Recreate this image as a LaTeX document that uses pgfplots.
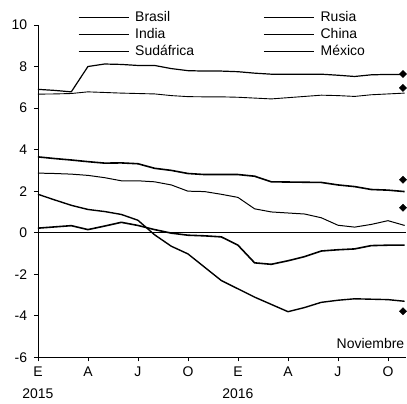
\documentclass[border=0pt]{standalone}
\usepackage{fontspec}
\setmainfont{Liberation Sans}
\usepackage{pgfplots}
\pgfplotsset{compat=1.18}

\begin{document}
\fontsize{14}{16}\selectfont
\begin{tikzpicture}
\begin{axis}[
  scale only axis,
  width=369pt, height=333pt,
  xmin=0, xmax=22.1, ymin=-6, ymax=10,
  axis x line*=bottom, axis y line*=left,
  axis line style={-},
  x axis line style={line width=1.1pt},
  y axis line style={line width=0.7pt},
  xtick={0,3,6,9,12,15,18,21},
  xticklabels={E\\2015, A, J, O, E\\2016, A, J, O},
  xticklabel style={align=center, font=\fontsize{14}{22}\selectfont, yshift=-1pt},
  ytick={-6,-4,...,10},
  yticklabel style={/pgf/number format/assume math mode=true, font=\fontsize{14}{16}\selectfont, xshift=-2pt},
  tick align=outside,
  major tick length=4pt,
  tick style={black, line width=0.7pt},
  clip=false,
  legend columns=2,
  legend style={draw=none, fill=none, inner sep=0pt,
    at={(rel axis cs:0.108,1.045)}, anchor=north west,
    nodes={text height=10pt, text depth=3pt, inner sep=1pt, anchor=west},
    row sep=2pt,
    /tikz/every odd column/.append style={column sep=5pt},
    /tikz/every even column/.append style={column sep=68pt},
    font=\fontsize{14}{16}\selectfont},
  legend image code/.code={\draw[#1] (0pt,0pt) -- (50pt,0pt);},
]
% Brasil
\addplot[black, line width=1.4pt] coordinates {
 (0,1.85) (1,1.58) (2,1.32) (3,1.12) (4,1.02) (5,0.88) (6,0.6) (7,-0.1)
 (8,-0.65) (9,-1.02) (10,-1.66) (11,-2.3) (12,-2.7) (13,-3.1) (14,-3.45)
 (15,-3.8) (16,-3.6) (17,-3.35) (18,-3.25) (19,-3.18) (20,-3.2) (21,-3.22) (22,-3.3)};
\addlegendentry{Brasil}
% Rusia
\addplot[black, line width=1.6pt] coordinates {
 (0,0.22) (1,0.28) (2,0.34) (3,0.15) (4,0.32) (5,0.5) (6,0.35) (7,0.15)
 (8,-0.02) (9,-0.12) (10,-0.15) (11,-0.2) (12,-0.6) (13,-1.45) (14,-1.52)
 (15,-1.35) (16,-1.15) (17,-0.88) (18,-0.82) (19,-0.78) (20,-0.62) (21,-0.6) (22,-0.6)};
\addlegendentry{Rusia}
% India
\addplot[black, line width=1.2pt] coordinates {
 (0,6.9) (1,6.85) (2,6.78) (3,8.0) (4,8.12) (5,8.1) (6,8.05) (7,8.05)
 (8,7.9) (9,7.8) (10,7.78) (11,7.78) (12,7.75) (13,7.68) (14,7.63)
 (15,7.63) (16,7.63) (17,7.63) (18,7.58) (19,7.52) (20,7.6) (21,7.62) (22,7.62)};
\addlegendentry{India}
% China
\addplot[black, line width=0.9pt] coordinates {
 (0,6.67) (1,6.68) (2,6.7) (3,6.78) (4,6.75) (5,6.72) (6,6.7) (7,6.68)
 (8,6.6) (9,6.55) (10,6.54) (11,6.54) (12,6.52) (13,6.48) (14,6.44)
 (15,6.5) (16,6.56) (17,6.62) (18,6.6) (19,6.56) (20,6.64) (21,6.68) (22,6.72)};
\addlegendentry{China}
% Sudafrica
\addplot[black, line width=1.0pt] coordinates {
 (0,2.87) (1,2.85) (2,2.82) (3,2.76) (4,2.65) (5,2.5) (6,2.5) (7,2.45)
 (8,2.3) (9,2.0) (10,1.98) (11,1.85) (12,1.7) (13,1.15) (14,1.0)
 (15,0.95) (16,0.9) (17,0.72) (18,0.36) (19,0.27) (20,0.4) (21,0.58) (22,0.35)};
\addlegendentry{Sudáfrica}
% Mexico
\addplot[black, line width=1.6pt] coordinates {
 (0,3.65) (1,3.57) (2,3.5) (3,3.42) (4,3.35) (5,3.36) (6,3.32) (7,3.1)
 (8,3.0) (9,2.85) (10,2.8) (11,2.8) (12,2.8) (13,2.72) (14,2.45)
 (15,2.44) (16,2.43) (17,2.42) (18,2.3) (19,2.22) (20,2.08) (21,2.05) (22,1.98)};
\addlegendentry{México}
% zero line
\addplot[black, line width=1.4pt, forget plot] coordinates {(0,0) (22.1,0)};
% markers (Noviembre)
\addplot[only marks, mark=diamond*, mark size=3.6pt, mark options={xscale=1.35}, black, forget plot] coordinates {
 (21.9,7.64) (21.9,6.97) (21.9,2.55) (21.9,1.2) (21.9,-3.78)};
\node[anchor=south east, inner sep=0pt, font=\fontsize{14}{16}\selectfont]
  at (rel axis cs:0.995,0.025) {Noviembre};
% page margins as in the reference
\path (rel axis cs:0,0) ++(-38pt,-42pt) rectangle ++(1pt,1pt);
\path (rel axis cs:1,1) ++(-1pt,25pt) rectangle ++(1pt,-1pt);
\end{axis}
\end{tikzpicture}
\end{document}
